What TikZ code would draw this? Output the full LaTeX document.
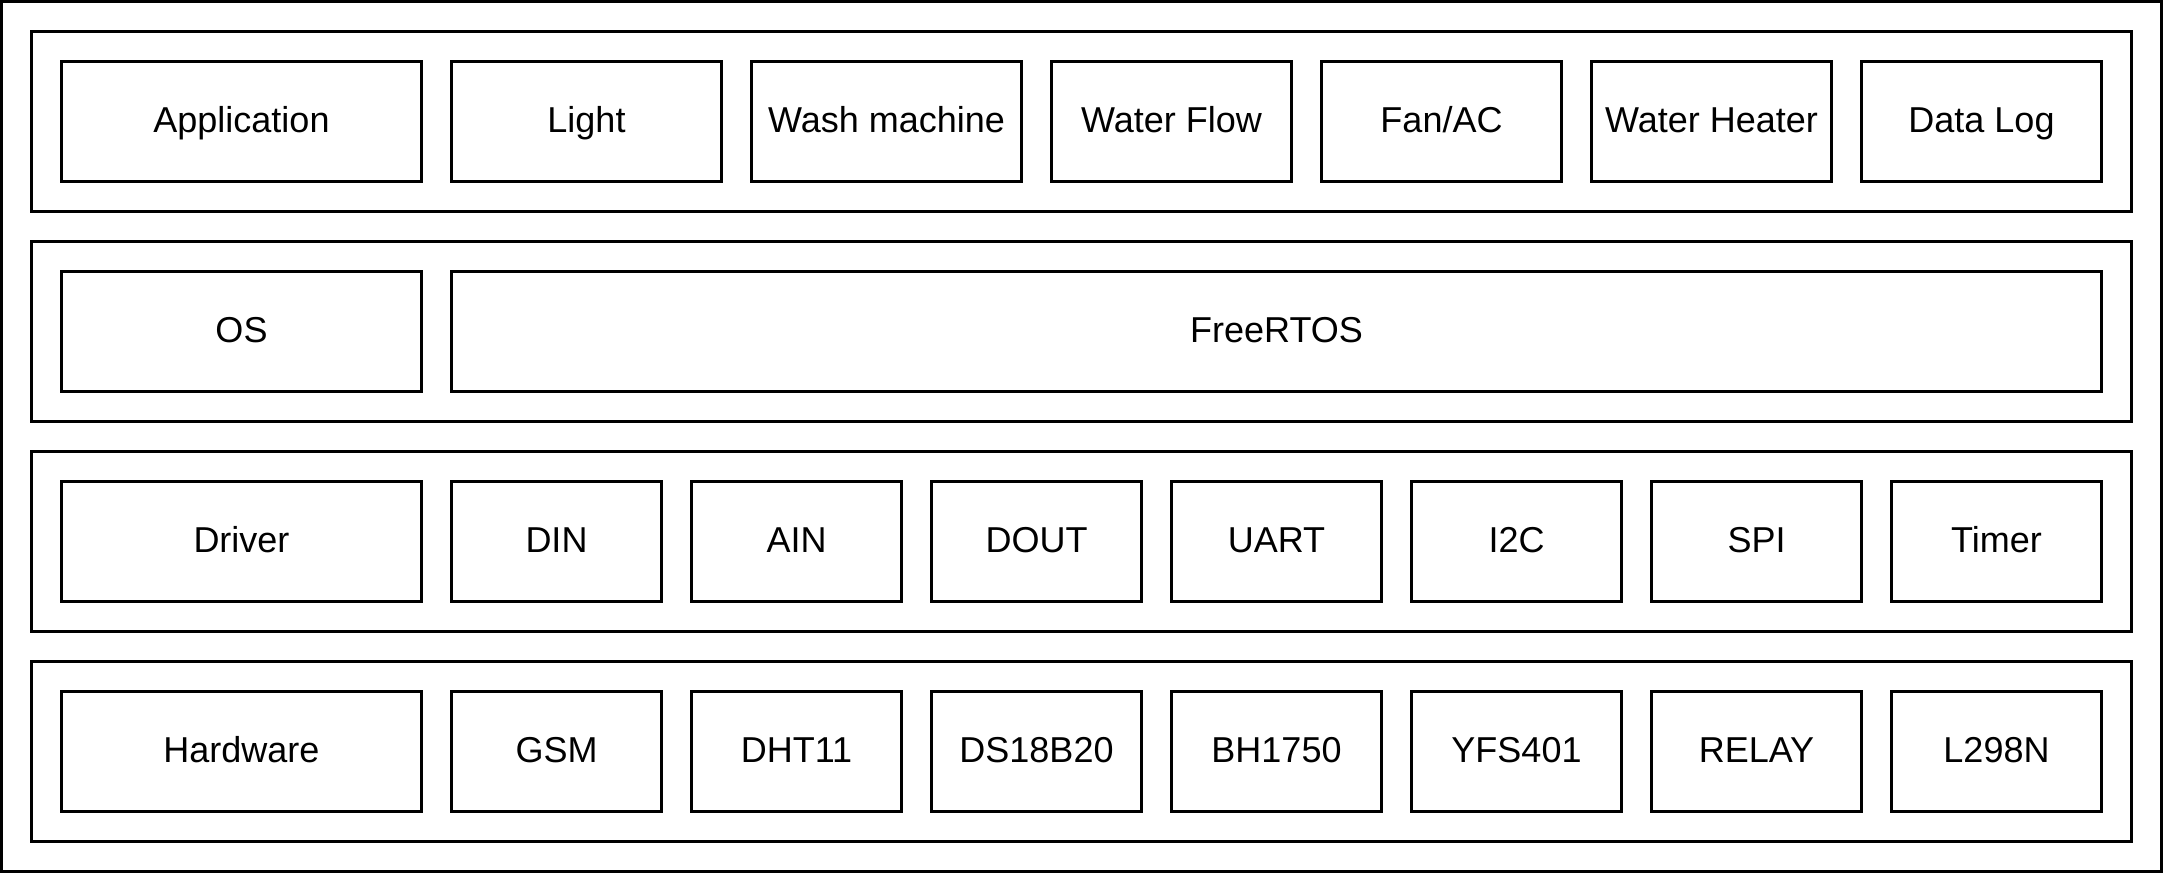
\documentclass[tikz,border=0pt]{standalone}
\usepackage{fontspec}
\setmainfont{Liberation Sans}
\begin{document}
\begin{tikzpicture}[x=1pt,y=-1pt,
  frame/.style={draw=black,line width=3pt},
  layerbox/.style={draw=black,line width=3pt,rectangle,inner sep=0pt,minimum height=180pt,minimum width=2100pt},
  cellbox/.style={draw=black,line width=3pt,rectangle,inner sep=0pt,minimum height=120pt,
    font=\fontsize{36}{43}\selectfont,text height=22pt,text depth=0pt}]
\useasboundingbox (0,0) rectangle (2163,873);
\draw[frame] (1.5,1.5) rectangle (2161.5,871.5);
% layers
\foreach \r in {0,1,2,3}{
  \node[layerbox] (layer\r) at (1081.5,121.5+210*\r) {};
}
% row 1
\node[cellbox,minimum width=360pt] (app) at (241.5,121.5) {Application};
\node[cellbox,minimum width=270pt] (light) at (586.5,121.5) {Light};
\node[cellbox,minimum width=270pt] (wash) at (886.5,121.5) {Wash machine};
\node[cellbox,minimum width=240pt] (flow) at (1171.5,121.5) {Water Flow};
\node[cellbox,minimum width=240pt] (fan) at (1441.5,121.5) {Fan/AC};
\node[cellbox,minimum width=240pt] (heater) at (1711.5,121.5) {Water Heater};
\node[cellbox,minimum width=240pt] (log) at (1981.5,121.5) {Data Log};
% row 2
\node[cellbox,minimum width=360pt] (os) at (241.5,331.5) {OS};
\node[cellbox,minimum width=1650pt] (rtos) at (1276.5,331.5) {FreeRTOS};
% row 3
\node[cellbox,minimum width=360pt] (driver) at (241.5,541.5) {Driver};
\foreach \n/\t [count=\i from 0] in {din/DIN,ain/AIN,dout/DOUT,uart/UART,itc/I2C,spi/SPI,timer/Timer}{
  \node[cellbox,minimum width=210pt] (\n) at (556.5+240*\i,541.5) {\t};
}
% row 4
\node[cellbox,minimum width=360pt] (hw) at (241.5,751.5) {Hardware};
\foreach \n/\t [count=\i from 0] in {gsm/GSM,dht/DHT11,ds/DS18B20,bh/BH1750,yfs/YFS401,relay/RELAY,lmot/L298N}{
  \node[cellbox,minimum width=210pt] (\n) at (556.5+240*\i,751.5) {\t};
}
\end{tikzpicture}
\end{document}
